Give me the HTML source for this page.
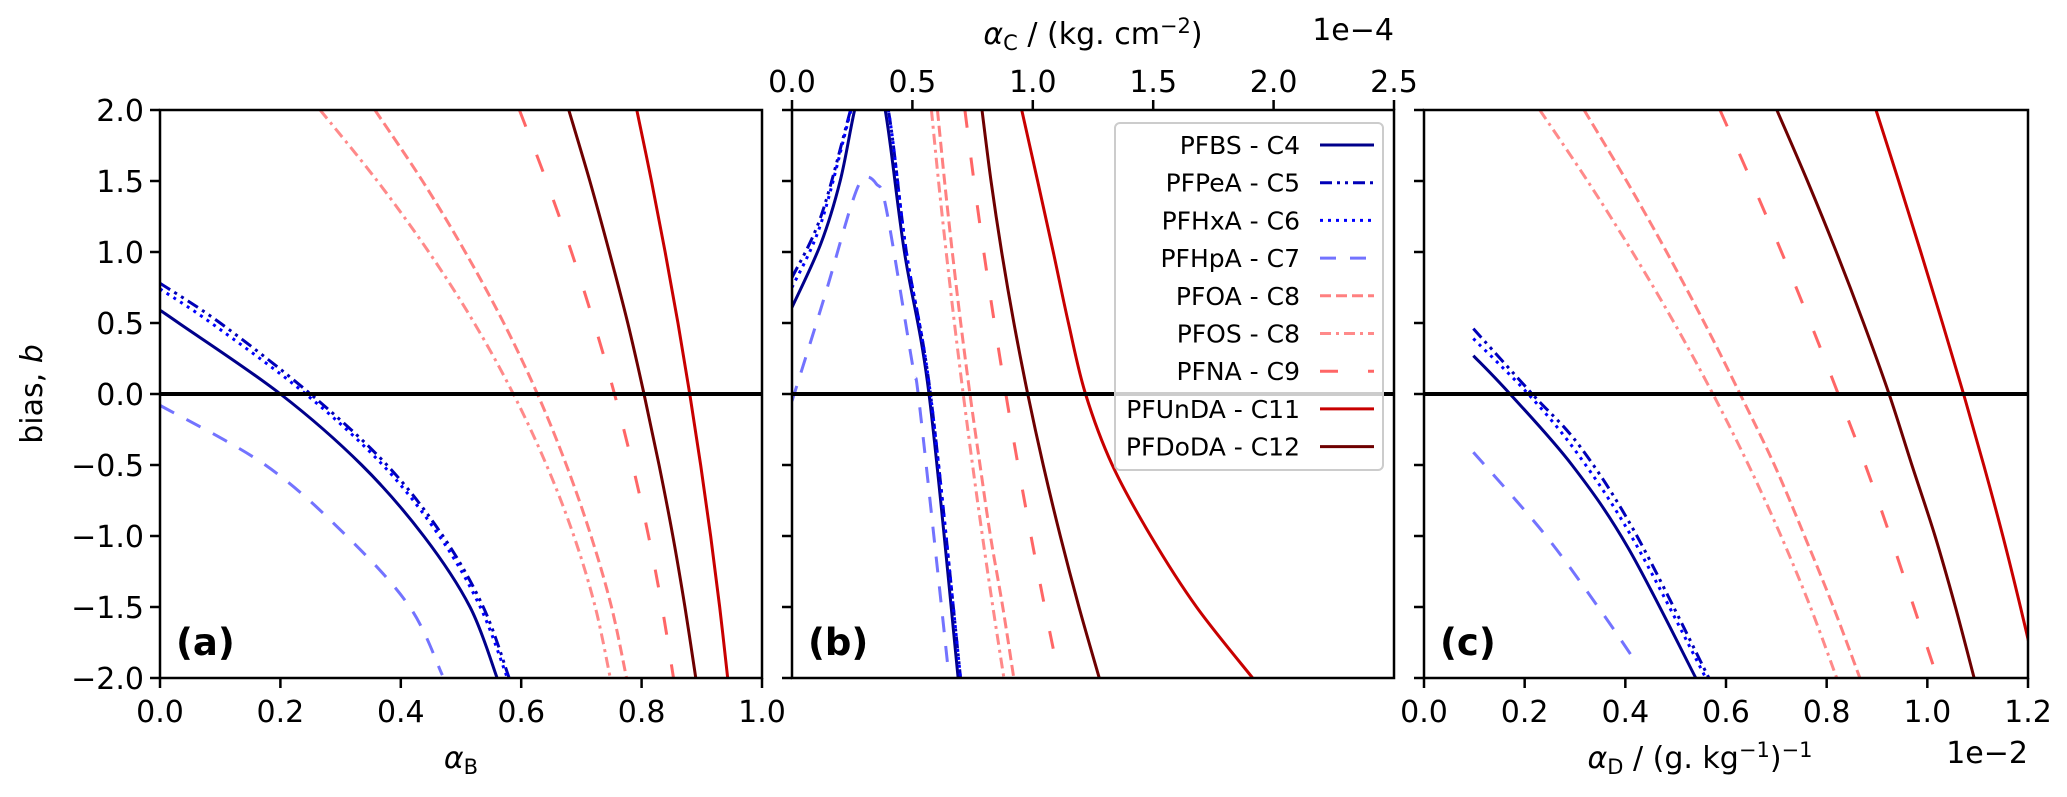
<!DOCTYPE html>
<html><head><meta charset="utf-8"><style>
html,body{margin:0;padding:0;background:#fff;}
svg{display:block;font-family:"DejaVu Sans","Liberation Sans",sans-serif;}
</style></head><body>
<svg id="fig" width="2067" height="797" viewBox="0 0 2067 797" xmlns="http://www.w3.org/2000/svg"></svg>
<script>
// ---- data arrays ----
const seriesNames = ["PFBS - C4","PFPeA - C5","PFHxA - C6","PFHpA - C7","PFOA - C8","PFOS - C8","PFNA - C9","PFUnDA - C11","PFDoDA - C12"];
const seriesKeys = ["pfbs","pfpea","pfhxa","pfhpa","pfoa","pfos","pfna","pfunda","pfdoda"];
const yTicks = [2.0,1.5,1.0,0.5,0.0,-0.5,-1.0,-1.5,-2.0];
const xTicksA = [0.0,0.2,0.4,0.6,0.8,1.0];
const xTicksB = [0.0,0.5,1.0,1.5,2.0,2.5];
const xTicksC = [0.0,0.2,0.4,0.6,0.8,1.0,1.2];
// panel (a): [alphaB, bias]
const aPFBS  = [[0,0.59],[0.031,0.5],[0.2,0],[0.335,-0.5],[0.438,-1],[0.515,-1.5],[0.56,-2]];
const aPFPeA = [[0,0.78],[0.10,0.5],[0.25,0],[0.377,-0.5],[0.47,-1],[0.537,-1.5],[0.58,-2]];
const aPFHxA = [[0,0.74],[0.085,0.5],[0.242,0],[0.37,-0.5],[0.464,-1],[0.532,-1.5],[0.577,-2]];
const aPFHpA = [[0,-0.08],[0.175,-0.5],[0.31,-1],[0.415,-1.5],[0.469,-1.98]];
const aPFOA  = [[0.357,2],[0.436,1.5],[0.507,1],[0.571,0.5],[0.627,0],[0.675,-0.5],[0.716,-1],[0.750,-1.5],[0.775,-2]];
const aPFOS  = [[0.266,2],[0.361,1.5],[0.4465,1],[0.522,0.5],[0.587,0],[0.642,-0.5],[0.6875,-1],[0.723,-1.5],[0.748,-2]];
const aPFNA  = [[0.597,2],[0.642,1.5],[0.6835,1],[0.721,0.5],[0.755,0],[0.785,-0.5],[0.8115,-1],[0.834,-1.5],[0.853,-2]];
const aPFUnDA= [[0.792,2],[0.8164,1.5],[0.8391,1],[0.8604,0.5],[0.88,0],[0.8981,-0.5],[0.9147,-1],[0.9297,-1.5],[0.943,-2]];
const aPFDoDA= [[0.679,2],[0.714,1.5],[0.7464,1],[0.777,0.5],[0.804,0],[0.829,-0.5],[0.8519,-1],[0.872,-1.5],[0.89,-2]];
// panel (b): [alphaC x1e-4, bias]
const bPFBS  = [[0,0.61],[0.12,1.06],[0.2,1.5],[0.26,2],[0.32,2.4],[0.387,2],[0.466,1.01],[0.569,0],[0.69,-2]];
const bPFPeA = [[0,0.82],[0.12,1.25],[0.243,2],[0.32,2.5],[0.40,2],[0.475,1.0],[0.575,0],[0.70,-2]];
const bPFHxA = [[0,0.75],[0.12,1.2],[0.245,2],[0.32,2.5],[0.40,2],[0.475,1.0],[0.575,0],[0.70,-2]];
const bPFHpA = [[0,-0.05],[0.136,0.69],[0.25,1.35],[0.30,1.52],[0.35,1.48],[0.392,1.3],[0.5,0.21],[0.524,0],[0.6,-1.17],[0.648,-1.93]];
const bPFOA  = [[0.604,2],[0.6335,1.5],[0.6657,1],[0.7007,0.5],[0.739,0],[0.7808,-0.5],[0.8241,-1],[0.8752,-1.5],[0.921,-2]];
const bPFOS  = [[0.579,2],[0.6084,1.5],[0.6403,1],[0.6745,0.5],[0.711,0],[0.7498,-0.5],[0.7908,-1],[0.8342,-1.5],[0.88,-2]];
const bPFNA  = [[0.718,2],[0.7556,1.5],[0.7965,1],[0.8407,0.5],[0.888,0],[0.9387,-0.5],[0.9925,-1],[1.0496,-1.5],[1.11,-2]];
const bPFUnDA= [[0.954,2],[1.02,1.5],[1.085,1],[1.148,0.5],[1.219,0],[1.33,-0.5],[1.49,-1],[1.68,-1.5],[1.913,-2]];
const bPFDoDA= [[0.789,2],[0.8265,1.5],[0.8707,1],[0.9215,0.5],[0.979,0],[1.0432,-0.5],[1.1142,-1],[1.1917,-1.5],[1.276,-2]];
// panel (c): [alphaD x1e-2, bias]
const cPFBS  = [[0.098,0.27],[0.171,0],[0.294,-0.5],[0.405,-1.08],[0.54,-2]];
const cPFPeA = [[0.098,0.46],[0.215,0],[0.31,-0.37],[0.42,-0.98],[0.566,-2]];
const cPFHxA = [[0.098,0.39],[0.207,0],[0.305,-0.42],[0.415,-1.02],[0.56,-2]];
const cPFHpA = [[0.098,-0.41],[0.238,-0.98],[0.35,-1.52],[0.425,-1.91]];
const cPFOA  = [[0.318,2],[0.4025,1.5],[0.482,1],[0.5572,0.5],[0.628,0],[0.6962,-0.5],[0.756,-1],[0.8133,-1.5],[0.866,-2]];
const cPFOS  = [[0.23,2],[0.325,1.5],[0.414,1],[0.4972,0.5],[0.574,0],[0.6447,-0.5],[0.7093,-1],[0.7677,-1.5],[0.82,-2]];
const cPFNA  = [[0.588,2],[0.6503,1.5],[0.7103,1],[0.7678,0.5],[0.823,0],[0.8768,-0.5],[0.9263,-1],[0.9733,-1.5],[1.02,-2]];
const cPFUnDA= [[0.898,2],[0.943,1.5],[0.987,1],[1.030,0.5],[1.072,0],[1.112,-0.5],[1.15,-1],[1.185,-1.5],[1.218,-2]];
const cPFDoDA= [[0.701,2],[0.7618,1.5],[0.8193,1],[0.8733,0.5],[0.924,0],[0.9693,-0.5],[1.0153,-1],[1.0558,-1.5],[1.093,-2]];

const styles = {
 pfbs:{c:"#00008b",d:""},
 pfpea:{c:"#0000b8",d:"12,5,3,5,3,5"},
 pfhxa:{c:"#0000ff",d:"3,5"},
 pfhpa:{c:"#7373ff",d:"16,14"},
 pfoa:{c:"#ff8080",d:"11,5"},
 pfos:{c:"#ff8a8a",d:"11,5,3,5"},
 pfna:{c:"#ff6666",d:"18,30"},
 pfunda:{c:"#c80000",d:""},
 pfdoda:{c:"#6e0000",d:""}
};

const NS="http://www.w3.org/2000/svg";
const svg=document.getElementById('fig');
function el(tag,attrs,parent){const e=document.createElementNS(NS,tag);for(const k in attrs)e.setAttribute(k,attrs[k]);(parent||svg).appendChild(e);return e;}

const TOP=110,BOT=678;
const panels=[
 {id:"a",x0:160,x1:762,xmax:1.0,data:[aPFBS,aPFPeA,aPFHxA,aPFHpA,aPFOA,aPFOS,aPFNA,aPFUnDA,aPFDoDA],ticks:xTicksA,where:"bottom",ylabels:true},
 {id:"b",x0:792,x1:1394,xmax:2.5,data:[bPFBS,bPFPeA,bPFHxA,bPFHpA,bPFOA,bPFOS,bPFNA,bPFUnDA,bPFDoDA],ticks:xTicksB,where:"top",ylabels:false},
 {id:"c",x0:1424,x1:2028,xmax:1.2,data:[cPFBS,cPFPeA,cPFHxA,cPFHpA,cPFOA,cPFOS,cPFNA,cPFUnDA,cPFDoDA],ticks:xTicksC,where:"bottom",ylabels:false}
];
function yS(v){return TOP+(2-v)/4*(BOT-TOP);}
function pathFrom(pts){
 if(pts.length<2)return "";
 let d="M"+pts[0][0].toFixed(2)+","+pts[0][1].toFixed(2);
 for(let i=0;i<pts.length-1;i++){
  const p0=pts[i-1]||pts[i],p1=pts[i],p2=pts[i+1],p3=pts[i+2]||p2;
  const c1=[p1[0]+(p2[0]-p0[0])/6,p1[1]+(p2[1]-p0[1])/6];
  const c2=[p2[0]-(p3[0]-p1[0])/6,p2[1]-(p3[1]-p1[1])/6];
  d+="C"+c1[0].toFixed(2)+","+c1[1].toFixed(2)+" "+c2[0].toFixed(2)+","+c2[1].toFixed(2)+" "+p2[0].toFixed(2)+","+p2[1].toFixed(2);
 }
 return d;
}
const defs=el('defs',{});
panels.forEach(p=>{
 const xS=v=>p.x0+v/p.xmax*(p.x1-p.x0);
 const g=el('g',{});
 
 
 const cp=el('clipPath',{id:'clip-'+p.id},defs);
 el('rect',{x:p.x0,y:TOP,width:p.x1-p.x0,height:BOT-TOP},cp);
 const sg=el('g',{'clip-path':'url(#clip-'+p.id+')'},g);
 p.data.forEach((arr,i)=>{
  const k=seriesKeys[i];
  const pts=arr.map(q=>[xS(q[0]),yS(q[1])]);
  const path=el('path',{d:pathFrom(pts),fill:'none',stroke:styles[k].c,'stroke-width':3,'stroke-dasharray':styles[k].d||'none'},sg);
  
  
 });
 const z=el('line',{x1:p.x0,x2:p.x1,y1:yS(0),y2:yS(0),stroke:'#000','stroke-width':4},g);
 
 
 const fr=el('rect',{x:p.x0,y:TOP,width:p.x1-p.x0,height:BOT-TOP,fill:'none',stroke:'#000','stroke-width':2.5},g);
 
 
 yTicks.forEach(t=>{
  el('line',{x1:p.x0-10,x2:p.x0,y1:yS(t),y2:yS(t),stroke:'#000','stroke-width':2.5},g);
  if(p.ylabels){
   const tx=el('text',{x:p.x0-16,y:yS(t)+11,'text-anchor':'end','font-size':30,fill:'#000'},g);
   tx.textContent=(t<0?'\u2212':'')+Math.abs(t).toFixed(1);
   
   
  }
 });
 p.ticks.forEach(t=>{
  const x=xS(t);
  if(p.where==="bottom"){
   el('line',{x1:x,x2:x,y1:BOT,y2:BOT+10,stroke:'#000','stroke-width':2.5},g);
   const tx=el('text',{x:x,y:BOT+44,'text-anchor':'middle','font-size':30,fill:'#000'},g);
   tx.textContent=t.toFixed(1);
   
   
  } else {
   el('line',{x1:x,x2:x,y1:TOP-10,y2:TOP,stroke:'#000','stroke-width':2.5},g);
   const tx=el('text',{x:x,y:TOP-18,'text-anchor':'middle','font-size':30,fill:'#000'},g);
   tx.textContent=t.toFixed(1);
   
   
  }
 });
 const pl=el('text',{x:p.x0+16,y:BOT-23,'font-size':37,'font-weight':'bold',fill:'#000'},g);
 pl.textContent='('+p.id+')';
 
 
});

function txt(x,y,size,anchor,html,name,extra){
 const t=el('text',Object.assign({x:x,y:y,'font-size':size,'text-anchor':anchor,fill:'#000'},extra||{}));
 t.innerHTML=html;
 
 
 return t;
}
txt(33,394,30,'middle','bias, <tspan font-style="italic">b</tspan>','y-axis-title',{transform:'rotate(-90 33 394)',dy:'9'});
txt(461,768,30,'middle','<tspan font-style="italic">α</tspan><tspan font-size="21" dy="6">B</tspan>','x-axis-title-a');
txt(1093,44,30,'middle','<tspan font-style="italic">α</tspan><tspan font-size="21" dy="6">C</tspan><tspan dy="-6"> / (kg. cm</tspan><tspan font-size="21" dy="-11">−2</tspan><tspan dy="11">)</tspan>','x-axis-title-b');
txt(1394,40,30,'end','1e−4','x-offset-b');
txt(1700,768,30,'middle','<tspan font-style="italic">α</tspan><tspan font-size="21" dy="6">D</tspan><tspan dy="-6"> / (g. kg</tspan><tspan font-size="21" dy="-11">−1</tspan><tspan dy="11">)</tspan><tspan font-size="21" dy="-11">−1</tspan>','x-axis-title-c');
txt(2028,763,30,'end','1e−2','x-offset-c');

const lg=el('g',{});


el('rect',{x:1115,y:123,width:268,height:347,rx:5,fill:'rgba(255,255,255,0.8)',stroke:'#cccccc','stroke-width':2},lg);
seriesNames.forEach((n,i)=>{
 const y=145+i*37.7;
 const k=seriesKeys[i];
 const t=el('text',{x:1300,y:y+9,'text-anchor':'end','font-size':25,fill:'#000'},lg);
 t.textContent=n;
 
 
 const l=el('line',{x1:1320,x2:1374,y1:y,y2:y,stroke:styles[k].c,'stroke-width':3,'stroke-dasharray':styles[k].d||'none'},lg);
 
 
});
</script>
</body></html>
